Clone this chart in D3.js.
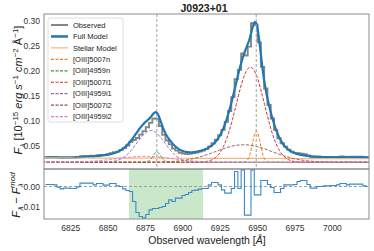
<!DOCTYPE html>
<html><head><meta charset="utf-8">
<script src="https://cdn.jsdelivr.net/npm/d3@7"></script>
<style>body{margin:0;background:#fff} svg{display:block;font-family:"Liberation Sans",Arial,sans-serif}</style>
</head><body><svg id="c" width="374" height="251"></svg>
<script>
// ---------------- data ----------------
const title = "J0923+01";
const xTicks = [6825, 6850, 6875, 6900, 6925, 6950, 6975, 7000];
const yTicksTop = [0.05, 0.10, 0.15, 0.20, 0.25, 0.30];
const yTicksBottom = [0.00, -0.01];
const waveStart = 6808.4, waveStep = 2.2;   // observed pixel grid
const residual = [
  0.0010, 0.0010, 0.0010, 0.0008, -0.0003, -0.0012, -0.0008, -0.0008, -0.0010, -0.0010,
 -0.0002, 0.0017, 0.0017, 0.0017, 0.0017, 0.0008, 0.0015, 0.0015, 0.0007, 0.0007,
  0.0015, 0.0015, 0.0003, 0.0000, -0.0012, -0.0020, -0.0025, -0.0075, -0.0130, -0.0150,
 -0.0157, -0.0140, -0.0117, -0.0110, -0.0110, -0.0105, -0.0100, -0.0085, -0.0067, -0.0075,
 -0.0058, -0.0058, -0.0045, -0.0040, -0.0030, -0.0020, -0.0018, -0.0013, -0.0010, -0.0010,
  0.0008, 0.0020, 0.0020, 0.0008, -0.0017, -0.0033, -0.0033, -0.0010, 0.0075, -0.0010,
  0.0083, -0.0143, -0.0143, 0.0083, -0.0042, -0.0042, 0.0030, 0.0030, 0.0010, -0.0005,
 -0.0030, -0.0030, -0.0010, 0.0008, 0.0008, 0.0008, 0.0010, 0.0025, 0.0030, 0.0030,
  0.0010, -0.0008, -0.0008, 0.0000, 0.0000, 0.0003, 0.0003, 0.0005, 0.0005, 0.0008,
  0.0015, 0.0015, 0.0008, 0.0012, 0.0012, 0.0012, 0.0012, 0.0003, 0.0000];
const compNames   = ["[OIII]5007n", "[OIII]4959n", "[OIII]5007i1", "[OIII]4959i1", "[OIII]5007i2", "[OIII]4959i2"];
const compCenters = [6949.5, 6882.9, 6945.5, 6878.9, 6941.0, 6874.6];
const compSigmas  = [2.6, 2.6, 9.5, 9.4, 19.0, 18.8];
const compAmps    = [0.062, 0.0207, 0.19, 0.0633, 0.035, 0.0117];
const compOffset  = 0.0175;
const stellarWave = [6807, 7025];
const stellarFlux = [0.0262, 0.0245];
const contWave = [6807, 7025];
const contFlux = [0.0270, 0.0273];
const lineCenters = [6882.9, 6949.4];
const fitWindow = [6864.3, 6913.8];

// ---------------- styles ----------------
const compColors = ["#ff7f0e", "#2ca02c", "#d62728", "#9467bd", "#8c564b", "#e377c2"];
const obsColor = "#858585", fullColor = "#1f77b4", stellarColor = "#f4b67c", residColor = "#3a89c9";

const svg = d3.select("#c");
const L = 44, R = 369, T1 = 14, B1 = 169, B2 = 219;
const x = d3.scaleLinear().domain([6807.44, 7024.83]).range([L, R]);
const yT = d3.scaleLinear().domain([0.004, 0.314]).range([B1, T1]);
const yB = d3.scaleLinear().domain([-0.01625, 0.00875]).range([B2, B1]);
const cont = d3.scaleLinear().domain(contWave).range(contFlux);
const stellar = d3.scaleLinear().domain(stellarWave).range(stellarFlux);

const gauss = (l, k) => compAmps[k] * Math.exp(-((l - compCenters[k]) ** 2) / (2 * compSigmas[k] ** 2));
const model = l => cont(l) + compNames.reduce((s, _, k) => s + gauss(l, k), 0);

const fine = d3.range(6806, 7026, 0.5);
const waves = residual.map((_, i) => waveStart + i * waveStep);
const observed = waves.map((w, i) => model(w) + residual[i]);

const defs = svg.append("defs");
defs.append("clipPath").attr("id", "cTop").append("rect").attr("x", L).attr("y", T1).attr("width", R - L).attr("height", B1 - T1);
defs.append("clipPath").attr("id", "cBot").append("rect").attr("x", L).attr("y", B1).attr("width", R - L).attr("height", B2 - B1);

// ---------------- top panel ----------------
const gT = svg.append("g").attr("clip-path", "url(#cTop)");
const lineT = d3.line().x(d => x(d[0])).y(d => yT(d[1]));
gT.append("path").attr("d", lineT.curve(d3.curveStep)(waves.map((w, i) => [w, observed[i]])))
  .attr("fill", "none").attr("stroke", obsColor).attr("stroke-width", 1.9);
lineT.curve(d3.curveLinear);
gT.append("path").attr("d", lineT(fine.map(l => [l, model(l)])))
  .attr("fill", "none").attr("stroke", fullColor).attr("stroke-width", 2.2);
gT.append("path").attr("d", lineT(fine.map(l => [l, stellar(l)])))
  .attr("fill", "none").attr("stroke", stellarColor).attr("stroke-width", 1.2);
compNames.forEach((n, k) => {
  gT.append("path").attr("d", lineT(fine.map(l => [l, compOffset + gauss(l, k)])))
    .attr("fill", "none").attr("stroke", compColors[k]).attr("stroke-width", 1)
    .attr("stroke-dasharray", "3.2,1.6");
});
lineCenters.forEach(c => {
  gT.append("line").attr("x1", x(c)).attr("x2", x(c)).attr("y1", T1).attr("y2", B1)
    .attr("stroke", "#a0a0a0").attr("stroke-width", 1).attr("stroke-dasharray", "3,2");
});

// ---------------- bottom panel ----------------
const gB = svg.append("g").attr("clip-path", "url(#cBot)");
gB.append("rect").attr("x", x(fitWindow[0])).attr("width", x(fitWindow[1]) - x(fitWindow[0]))
  .attr("y", B1).attr("height", B2 - B1).attr("fill", "#2ca02c").attr("fill-opacity", 0.25);
gB.append("line").attr("x1", L).attr("x2", R).attr("y1", yB(0)).attr("y2", yB(0))
  .attr("stroke", "#a0a0a0").attr("stroke-width", 1).attr("stroke-dasharray", "3,2");
gB.append("path").attr("d", d3.line().x(d => x(d[0])).y(d => yB(d[1])).curve(d3.curveStep)(waves.map((w, i) => [w, residual[i]])))
  .attr("fill", "none").attr("stroke", residColor).attr("stroke-width", 1.1);

// ---------------- frames & axes ----------------
[[T1, B1], [B1, B2]].forEach(([a, b]) => {
  svg.append("rect").attr("x", L).attr("y", a).attr("width", R - L).attr("height", b - a)
    .attr("fill", "none").attr("stroke", "#8c8c8c").attr("stroke-width", 1);
});
function styleAxis(g) {
  g.select(".domain").remove();
  g.selectAll("text").style("font-size", "8.5px").attr("fill", "#333");
}
svg.append("g").attr("transform", `translate(${L},0)`)
  .call(d3.axisLeft(yT).tickValues(yTicksTop).tickSize(0).tickPadding(4).tickFormat(d3.format(".2f"))).call(styleAxis);
svg.append("g").attr("transform", `translate(${L},0)`)
  .call(d3.axisLeft(yB).tickValues(yTicksBottom).tickSize(0).tickPadding(4).tickFormat(d3.format(".2f"))).call(styleAxis);
svg.append("g").attr("transform", `translate(0,${B2})`)
  .call(d3.axisBottom(x).tickValues(xTicks).tickSize(0).tickPadding(6).tickFormat(d3.format("d"))).call(styleAxis);

// ---------------- texts ----------------
svg.append("text").attr("x", 204).attr("y", 11.5).attr("text-anchor", "middle")
  .style("font-size", "10.5px").style("font-weight", "bold").attr("fill", "#222").text(title);
const xl = svg.append("text").attr("x", 207).attr("y", 244).attr("text-anchor", "middle")
  .style("font-size", "10.5px").attr("fill", "#222");
xl.append("tspan").text("Observed wavelength [");
xl.append("tspan").style("font-style", "italic").text("Å");
xl.append("tspan").text("]");

const yl = svg.append("text").attr("transform", "translate(22,90) rotate(-90)").attr("text-anchor", "middle")
  .style("font-size", "11px").attr("fill", "#222");
const parts = [
  ["F", 0, true, 11.2], ["λ", 2.5, true, 8], [" [10", -2.5, false, 11], ["−15", -4.2, false, 8],
  [" erg s", 4.2, true, 11], ["−1", -4.2, false, 8], [" cm", 4.2, true, 11], ["−2", -4.2, false, 8],
  [" Å", 4.2, false, 11], ["−1", -4.2, false, 8], ["]", 4.2, false, 11]];
parts.forEach(([t, dy, it, fs]) => yl.append("tspan").attr("dy", dy).style("font-style", it ? "italic" : "normal")
  .style("font-size", fs + "px").text(t));

const yl2 = svg.append("text").attr("transform", "translate(20,195) rotate(-90)").attr("text-anchor", "middle")
  .style("font-size", "11.2px").attr("fill", "#222");
yl2.append("tspan").style("font-style", "italic").text("F");
yl2.append("tspan").attr("dy", 2.5).style("font-size", "8px").style("font-style", "italic").text("λ");
yl2.append("tspan").attr("dy", -2.5).text("  −  ");
yl2.append("tspan").style("font-style", "italic").text("F");
yl2.append("tspan").attr("dy", 2.5).style("font-size", "8px").style("font-style", "italic").text("λ");
yl2.append("tspan").attr("dy", -7.5).attr("dx", -4.5).style("font-size", "8px").style("font-style", "italic").text("mod");

// ---------------- legend ----------------
const legLabels = ["Observed", "Full Model", "Stellar Model"].concat(compNames);
const legColors = [obsColor, fullColor, stellarColor].concat(compColors);
const legWidths = [2, 2.5, 1.2, 1.2, 1.2, 1.2, 1.2, 1.2, 1.2];
const legDash = [null, null, null, "3,1.5", "3,1.5", "3,1.5", "3,1.5", "3,1.5", "3,1.5"];
svg.append("rect").attr("x", 48).attr("y", 18).attr("width", 75).attr("height", 104).attr("rx", 2)
  .attr("fill", "#fff").attr("fill-opacity", 0.85).attr("stroke", "#d5d5d5").attr("stroke-width", 0.8);
legLabels.forEach((lab, k) => {
  const yy = 25 + k * 11.45;
  svg.append("line").attr("x1", 51).attr("x2", 68).attr("y1", yy).attr("y2", yy)
    .attr("stroke", legColors[k]).attr("stroke-width", legWidths[k]).attr("stroke-dasharray", legDash[k]);
  svg.append("text").attr("x", 73).attr("y", yy).attr("dy", "0.35em").style("font-size", "7.5px")
    .attr("fill", "#222").text(lab);
});
</script></body></html>
